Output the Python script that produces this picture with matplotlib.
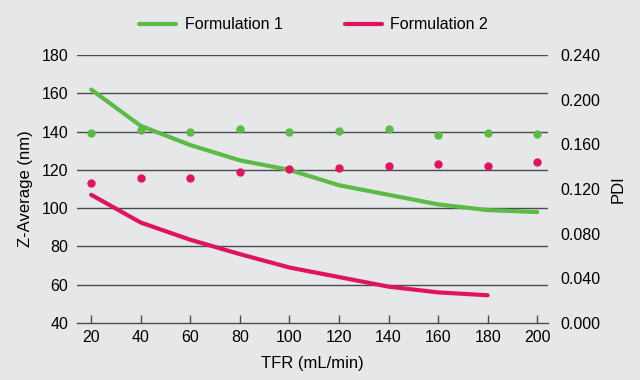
import matplotlib.pyplot as plt

plt.rcParams['font.family'] = ['Liberation Sans', 'DejaVu Sans']

# TFR (mL/min)
tfr = [20, 40, 60, 80, 100, 120, 140, 160, 180, 200]

# Z-Average (nm), lines
zavg_f1 = [162, 143, 133, 125, 120, 112, 107, 102, 99, 98]
zavg_f2 = [107, 92.5, 83.5, 76, 69, 64, 59, 56, 54.5]

# PDI, dots
pdi_f1 = [0.170, 0.173, 0.171, 0.174, 0.171, 0.172, 0.174, 0.168, 0.170, 0.169]
pdi_f2 = [0.125, 0.130, 0.130, 0.135, 0.138, 0.139, 0.141, 0.142, 0.141, 0.144]

green = '#5cba47'
pink = '#e0135f'
bg = '#e6e7e9'

fig = plt.figure(figsize=(6.4, 3.8), dpi=100, facecolor=bg)
ax = fig.add_axes([0.12, 0.15, 0.736, 0.705], facecolor=bg)
ax2 = ax.twinx()

ax.plot(tfr, zavg_f1, color=green, lw=3, solid_capstyle='round', label='Formulation 1', zorder=3)
ax.plot(tfr[:len(zavg_f2)], zavg_f2, color=pink, lw=3, solid_capstyle='round', label='Formulation 2', zorder=3)
ax2.plot(tfr, pdi_f1, 'o', color=green, ms=5, zorder=3)
ax2.plot(tfr, pdi_f2, 'o', color=pink, ms=5, zorder=3)

ax.set_xlim(14.2, 204.3)
ax.set_ylim(40, 180)
ax.set_xticks(tfr)
ax.set_yticks(range(40, 181, 20))
ax2.set_ylim(0, 0.24)
ax2.set_yticks([0, 0.04, 0.08, 0.12, 0.16, 0.20, 0.24])
ax2.set_yticklabels([f'{v:.3f}' for v in ax2.get_yticks()])

for y in range(60, 181, 20):
    ax.axhline(y, color='#4a4a4a', lw=1, zorder=1)

for a in (ax, ax2):
    for s in ('left', 'right', 'top'):
        a.spines[s].set_visible(False)
ax2.spines['bottom'].set_visible(False)
ax.spines['bottom'].set_color('#4a4a4a')
ax.spines['bottom'].set_linewidth(1)

ax.tick_params(axis='x', direction='in', length=6, width=1, color='#4a4a4a', labelsize=11.5, pad=5)
ax.tick_params(axis='y', length=0, labelsize=11.5, pad=6)
ax2.tick_params(axis='y', length=0, labelsize=11.5, pad=9)

ax.set_xlabel('TFR (mL/min)', fontsize=12, labelpad=8)
ax.set_ylabel('Z-Average (nm)', fontsize=12, labelpad=6)
ax2.set_ylabel('PDI', fontsize=12, labelpad=7)

fig.legend(loc='center', bbox_to_anchor=(0.49, 0.935), ncol=2, frameon=False,
           fontsize=11.5, handlelength=2.3, handletextpad=0.55, columnspacing=3.9)

plt.savefig('out.png', dpi=100, facecolor=bg)
